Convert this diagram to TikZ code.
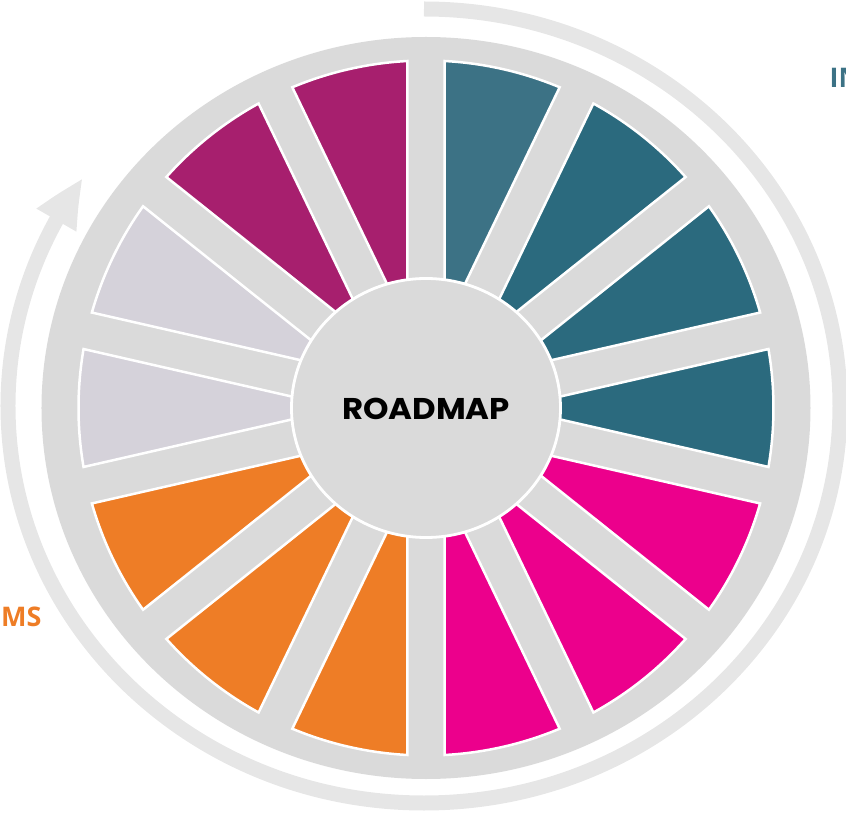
\documentclass[tikz,border=0pt]{standalone}
\usepackage{fontspec}
\setmainfont{Open Sans}
\newfontfamily\hubfont{Poppins}
\usetikzlibrary{arrows.meta,bending}

\definecolor{diskgrey}{HTML}{DADADA}
\definecolor{bandgrey}{HTML}{E6E6E6}
\definecolor{tealA}{HTML}{3C7285}
\definecolor{tealB}{HTML}{2B6A7E}
\definecolor{magentaS}{HTML}{EC008C}
\definecolor{orangeS}{HTML}{EE7D26}
\definecolor{lavenderS}{HTML}{D5D2DA}
\definecolor{purpleS}{HTML}{A71F6E}

\tikzset{
  cyclearrow/.style={draw=bandgrey, line width=15, line cap=butt,
    -{Triangle[length=50, width=42, bend]}},
  segment/.style={draw=white, line width=2.5, line join=miter},
  hubdisk/.style={fill=diskgrey, draw=white, line width=2.8},
  hubtext/.style={font=\hubfont\bfseries\fontsize{30}{30}\selectfont, text=black, inner sep=0},
  sidelabel/.style={font=\bfseries\fontsize{27}{27}\selectfont, inner sep=0},
}

\begin{document}
\begin{tikzpicture}[x=1pt, y=1pt]
  \useasboundingbox (-426,-408) rectangle (420,408);

  % circular arrow running clockwise around the wheel
  \draw[cyclearrow] (-2,399) arc[start angle=90, end angle=-215, x radius=416, y radius=397];

  % grey wheel
  \fill[diskgrey] (0,0) ellipse [x radius=384.5, y radius=371];

  % fourteen segments, separated by spokes of constant width
  \def\segR{347.5}
  \pgfmathsetmacro\segTheta{360/14}
  \pgfmathsetmacro\segDelta{asin(18.7/\segR)}
  \pgfmathsetmacro\segApex{18.7/sin(\segTheta/2)}
  \foreach \k/\c in {0/tealA,1/tealB,2/tealB,3/tealB,
                     4/magentaS,5/magentaS,6/magentaS,
                     7/orangeS,8/orangeS,9/orangeS,
                     10/lavenderS,11/lavenderS,
                     12/purpleS,13/purpleS} {
    \pgfmathsetmacro\aA{90-\k*\segTheta}
    \pgfmathsetmacro\aB{\aA-\segTheta}
    \pgfmathsetmacro\aMid{\aA-\segTheta/2}
    \pgfmathsetmacro\sA{\aA-\segDelta}
    \pgfmathsetmacro\sB{\aB+\segDelta}
    \filldraw[segment, fill=\c] (\aMid:\segApex) -- (\sA:\segR)
      arc[start angle=\sA, end angle=\sB, radius=\segR] -- cycle;
  }

  % hub
  \filldraw[hubdisk] (0,0) ellipse [x radius=134.5, y radius=129.5];
  \node[hubtext] (hub) at (0,-1) {\scalebox{1.08}[1]{ROADMAP}};

  % side labels, running off the edges of the page
  \node[sidelabel, text=tealA, anchor=west] (initLabel) at (403.5,330) {IN};
  \node[sidelabel, text=orangeS, anchor=east] (progLabel) at (-384.3,-209) {MS};
\end{tikzpicture}
\end{document}
